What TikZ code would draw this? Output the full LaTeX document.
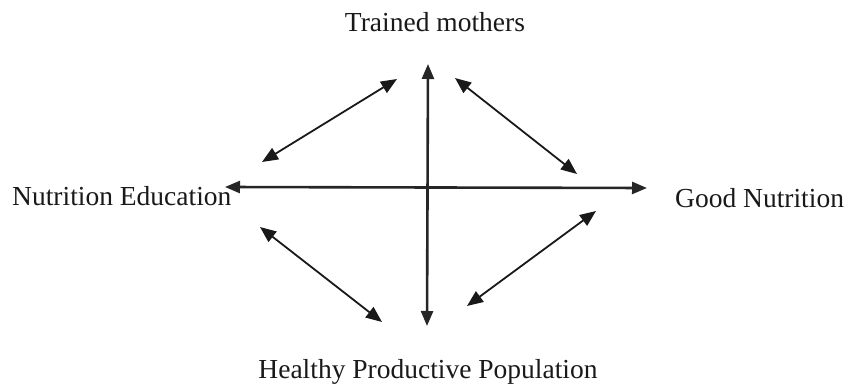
\documentclass[tikz,border=0pt]{standalone}
\usepackage{fontspec}
\setmainfont{Liberation Serif}
\usetikzlibrary{arrows.meta}
\begin{document}
\begin{tikzpicture}[x=1pt,y=-1pt,
  lbl/.style={font=\fontsize{27.5}{32}\selectfont, inner sep=0pt, text=black!90},
  axis/.style={line width=2.6pt, draw=black!85, {Triangle[length=15pt,width=12pt]}-{Triangle[length=15pt,width=12pt]}},
  diag/.style={line width=1.8pt, draw=black!90, {Triangle[length=16pt,width=13pt]}-{Triangle[length=16pt,width=13pt]}}]
\useasboundingbox (0,0) rectangle (848,385);
\node[lbl, anchor=base] (top) at (435,32) {Trained mothers};
\node[lbl, anchor=base west] (left) at (12,205) {Nutrition Education};
\node[lbl, anchor=base west] (right) at (675,207) {Good Nutrition};
\node[lbl, anchor=base] (bottom) at (428,378) {Healthy Productive Population};
\coordinate (vt) at (428,64);
\coordinate (vb) at (427,326);
\coordinate (hl) at (225,187);
\coordinate (hr) at (647,188);
\draw[axis] (vb) -- (vt);
\draw[axis] (hl) -- (hr);
\coordinate (a1) at (262,162);
\coordinate (a2) at (397,79);
\coordinate (b1) at (455,78);
\coordinate (b2) at (577,174);
\coordinate (c1) at (260,227);
\coordinate (c2) at (382,322);
\coordinate (d1) at (596,211);
\coordinate (d2) at (467,306);
\draw[diag] (a1) -- (a2);
\draw[diag] (b1) -- (b2);
\draw[diag] (c1) -- (c2);
\draw[diag] (d1) -- (d2);
\end{tikzpicture}
\end{document}
